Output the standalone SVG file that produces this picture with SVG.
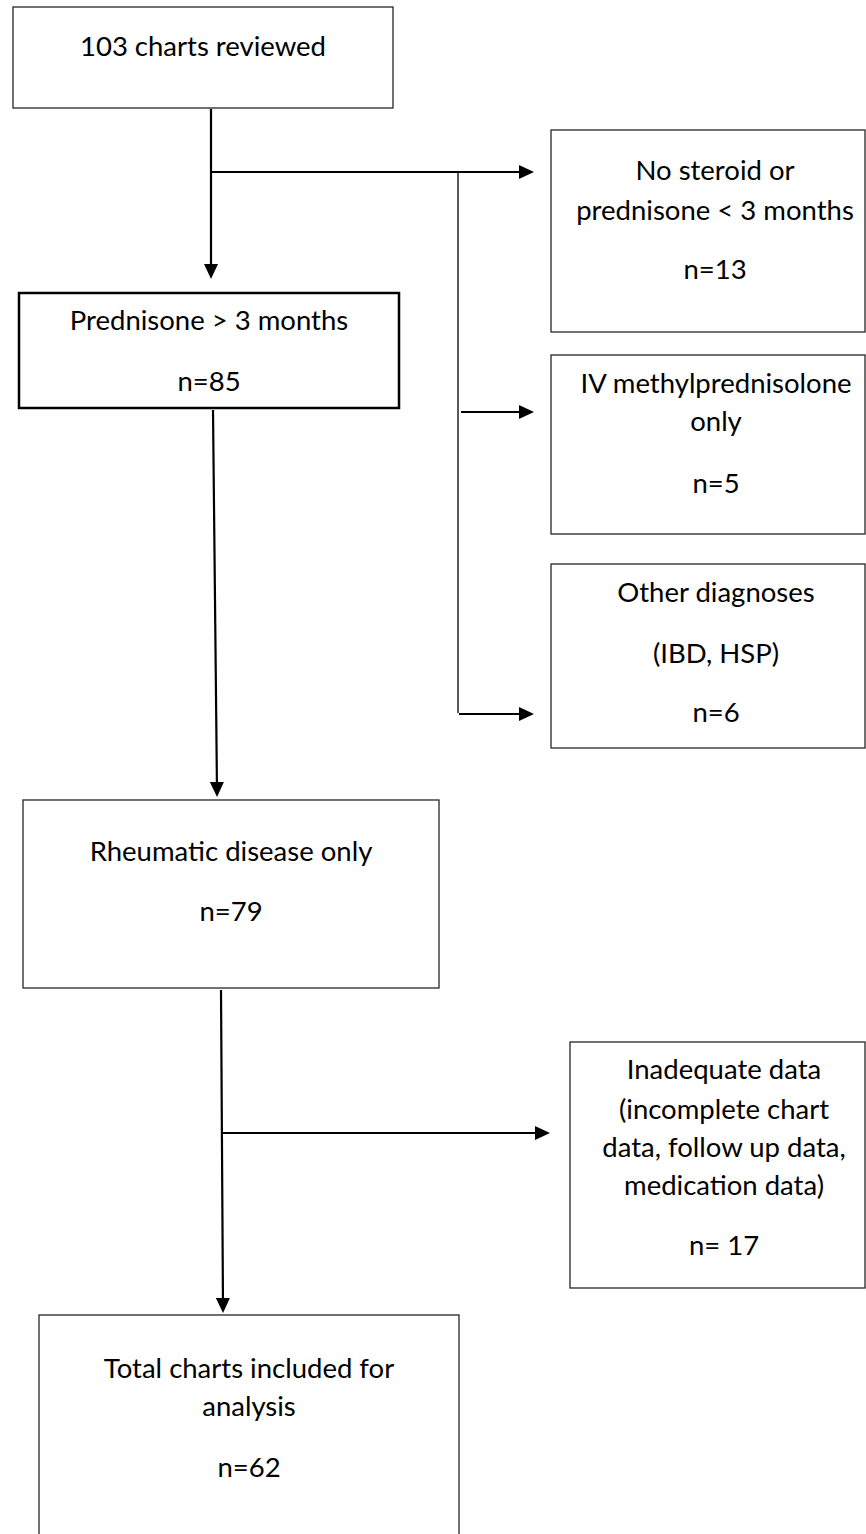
<svg xmlns="http://www.w3.org/2000/svg" width="866" height="1534" viewBox="0 0 866 1534">
<style>
  .box { fill: #ffffff; stroke: #262626; stroke-width: 1.3; }
  .bold { fill: #ffffff; stroke: #000000; stroke-width: 2.5; }
  .lbl { font-family: Lato, "Liberation Sans", sans-serif; font-size: 27.5px; fill: #000000; text-anchor: middle; }
  .conn { fill: none; stroke: #000000; stroke-width: 2.2; }
  .thin { fill: none; stroke: #000000; stroke-width: 1.3; }
</style>
<defs>
  <marker id="ah" viewBox="0 0 15 14" refX="9" refY="7" markerWidth="15" markerHeight="14" markerUnits="userSpaceOnUse" orient="auto">
    <path d="M0,0 L15,7 L0,14 Z" fill="#000000"/>
  </marker>
</defs>
<rect width="866" height="1534" fill="#ffffff"/>

<g id="connectors">
  <path class="conn" d="M211,109 L211,273" marker-end="url(#ah)"/>
  <path class="conn" d="M211,172 L528,172" marker-end="url(#ah)"/>
  <path class="thin" d="M458,172 L458,713"/>
  <path class="conn" d="M461,412 L528,412" marker-end="url(#ah)"/>
  <path class="conn" d="M459,714 L528,714" marker-end="url(#ah)"/>
  <path class="conn" d="M213,410 L217,791" marker-end="url(#ah)"/>
  <path class="conn" d="M221,990 L223,1307" marker-end="url(#ah)"/>
  <path class="conn" d="M221,1133 L544,1133" marker-end="url(#ah)"/>
</g>

<g id="node-reviewed">
  <rect class="box" x="13" y="7" width="380" height="101"/>
  <text class="lbl" x="203" y="56">103 charts reviewed</text>
</g>

<g id="node-prednisone">
  <rect class="bold" x="19" y="293" width="380" height="115"/>
  <text class="lbl" x="209" y="330">Prednisone &gt; 3 months</text>
  <text class="lbl" x="209" y="391">n=85</text>
</g>

<g id="node-nosteroid">
  <rect class="box" x="551" y="130" width="314" height="202"/>
  <text class="lbl" x="715" y="180">No steroid or</text>
  <text class="lbl" x="715" y="220">prednisone &lt; 3 months</text>
  <text class="lbl" x="715" y="279">n=13</text>
</g>

<g id="node-iv">
  <rect class="box" x="551" y="355" width="314" height="179"/>
  <text class="lbl" x="716" y="393">IV methylprednisolone</text>
  <text class="lbl" x="716" y="431">only</text>
  <text class="lbl" x="716" y="493">n=5</text>
</g>

<g id="node-other">
  <rect class="box" x="551" y="564" width="314" height="184"/>
  <text class="lbl" x="716" y="602">Other diagnoses</text>
  <text class="lbl" x="716" y="663">(IBD, HSP)</text>
  <text class="lbl" x="716" y="722">n=6</text>
</g>

<g id="node-rheumatic">
  <rect class="box" x="23" y="800" width="416" height="188"/>
  <text class="lbl" x="231" y="861">Rheumatic disease only</text>
  <text class="lbl" x="231" y="921">n=79</text>
</g>

<g id="node-inadequate">
  <rect class="box" x="570" y="1042" width="295" height="246"/>
  <text class="lbl" x="724" y="1079">Inadequate data</text>
  <text class="lbl" x="724" y="1119">(incomplete chart</text>
  <text class="lbl" x="724" y="1157">data, follow up data,</text>
  <text class="lbl" x="724" y="1195">medication data)</text>
  <text class="lbl" x="724" y="1255">n= 17</text>
</g>

<g id="node-total">
  <rect class="box" x="39" y="1315" width="420" height="240"/>
  <text class="lbl" x="249" y="1378">Total charts included for</text>
  <text class="lbl" x="249" y="1416">analysis</text>
  <text class="lbl" x="249" y="1477">n=62</text>
</g>
</svg>
